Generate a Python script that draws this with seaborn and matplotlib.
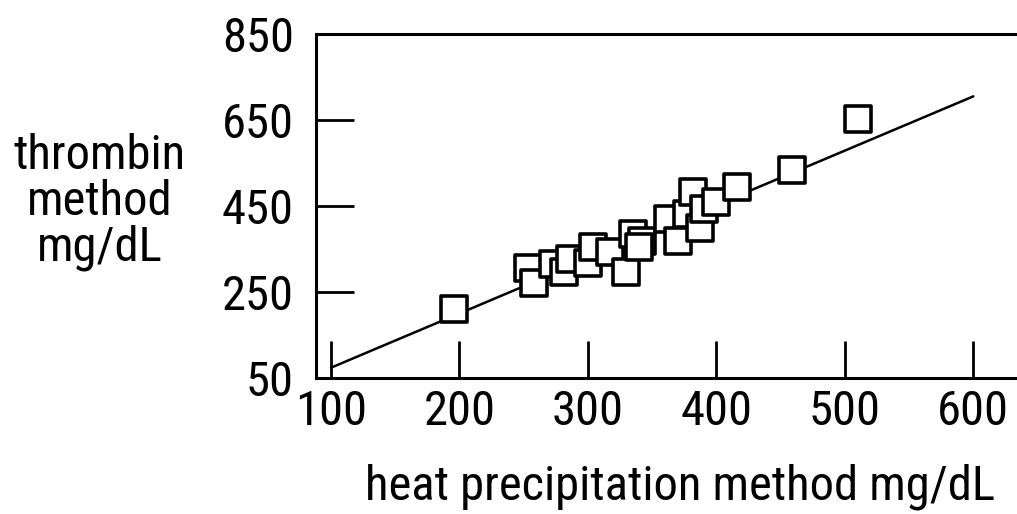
import numpy as np
import pandas as pd
import matplotlib
matplotlib.use("Agg")
import matplotlib.pyplot as plt
import seaborn as sns

# data
heat = [196, 253, 258, 273, 281, 286, 300, 304, 317, 330, 335, 342, 340,
        362, 370, 377, 382, 387, 390, 400, 416, 459, 510]
thrombin = [210, 306, 272, 315, 296, 327, 318, 355, 342, 296, 385, 369, 355,
            420, 369, 431, 482, 400, 443, 459, 494, 534, 653]
fit_x = [100, 600]
fit_y = [74, 705]
xticks = [100, 200, 300, 400, 500, 600]
yticks = [50, 250, 450, 650, 850]

df = pd.DataFrame({'heat': heat, 'thrombin': thrombin})

sns.set_style("white")
plt.rcParams['font.family'] = ['DejaVu Sans Condensed', 'Roboto Condensed',
                               'Liberation Sans Narrow', 'Roboto']
plt.rcParams['text.color'] = 'black'

fig = plt.figure(figsize=(10.17, 5.14), dpi=100)
ax = fig.add_axes([316 / 1017, 136 / 514, 701 / 1017, 344 / 514])

sns.lineplot(x=fit_x, y=fit_y, color='black', linewidth=1.8, ax=ax, zorder=2)
sns.scatterplot(data=df, x='heat', y='thrombin', marker='s', s=360,
                color='white', edgecolor='black', linewidth=2.6, ax=ax, zorder=3)
ax.collections[0].set_joinstyle('round')

ax.set_xlim(88.3, 634)
ax.set_ylim(50, 850)
ax.set_xticks(xticks)
ax.set_yticks(yticks)
ax.set_xticklabels([str(v) for v in xticks])
ax.set_yticklabels([str(v) for v in yticks])
ax.tick_params(bottom=True, left=True, direction='in', length=27, width=2,
               labelsize=35, colors='black')
ax.tick_params(axis='y', pad=16)
ax.tick_params(axis='x', pad=8)
ax.set_xlabel('')
ax.set_ylabel('')

for side in ['left', 'bottom', 'top']:
    ax.spines[side].set_linewidth(2.2)
    ax.spines[side].set_color('black')
ax.spines['right'].set_visible(False)

fig.text(100 / 1017, 1 - 202 / 514, 'thrombin\nmethod\nmg/dL', ha='center',
         va='center', fontsize=35, linespacing=1.0, color='black')
fig.text(680 / 1017, 1 - 500 / 514, 'heat precipitation method mg/dL',
         ha='center', va='baseline', fontsize=35, color='black')

fig.savefig('out.png', dpi=100)
